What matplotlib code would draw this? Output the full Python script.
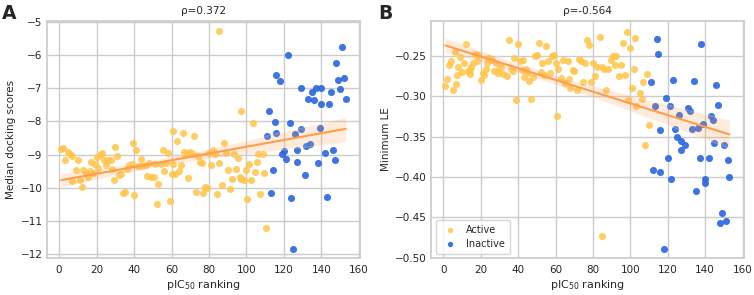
import numpy as np
import matplotlib
matplotlib.use("Agg")
import matplotlib.pyplot as plt
import seaborn as sns

# Panel A: median docking score vs pIC50 rank
a_act_x = [1, 2, 3, 5, 6, 7, 7, 9, 10, 11, 12, 13, 14.6, 15.5, 16.4, 17, 18, 19, 20, 21,
           22, 23, 24, 25, 26, 27.5, 28.4, 29.3, 30, 31, 32, 33, 34.3, 35.4, 36, 37.3, 38.8,
           39.6, 40, 41, 42.3, 43.6, 44.5, 46.4, 47.1, 48, 49.3, 50.4, 51, 52, 53, 54.3, 55.2,
           56, 57, 58, 59, 60, 61, 61, 62, 63, 64, 65, 66, 66.4, 67, 68, 69, 70, 71.3, 72, 73,
           74, 75, 76.3, 77, 78, 79, 80, 81, 82.3, 83, 84.3, 85.4, 85.5, 87, 88, 89, 90.4,
           91.4, 92.3, 93.2, 94.5, 95.4, 96.3, 97, 97, 98.6, 99.5, 100.4, 101.6, 102.5, 103.4,
           104.3, 105.7, 106.4, 107.3, 108.6, 109.3, 110.5]
a_act_y = [-8.82, -8.80, -9.15, -8.92, -8.99, -9.04, -9.79, -9.47, -9.17, -9.75, -9.96, -9.47,
           -9.52, -9.67, -9.50, -9.22, -9.54, -9.29, -9.07, -9.41, -9.02, -8.95, -9.15, -9.31,
           -9.17, -9.17, -9.44, -9.75, -8.77, -9.04, -9.62, -9.57, -10.15, -10.11, -9.42, -9.32,
           -9.27, -8.65, -10.20, -8.87, -9.35, -9.12, -9.35, -9.32, -9.64, -9.25, -9.67, -9.67,
           -9.29, -10.47, -9.87, -9.27, -8.87, -9.49, -9.25, -8.95, -10.40, -9.57, -9.27, -8.29,
           -9.57, -8.58, -9.49, -9.32, -8.35, -8.92, -9.02, -8.95, -9.70, -8.92, -8.99, -8.44,
           -10.12, -9.05, -9.22, -9.25, -10.15, -9.97, -10.00, -8.95, -9.32, -8.85, -8.97,
           -10.19, -5.28, -9.25, -9.92, -8.65, -8.95, -9.47, -10.02, -9.72, -8.97, -9.42, -9.09,
           -9.67, -9.72, -7.69, -9.77, -9.45, -10.32, -9.29, -9.75, -8.05, -9.52, -9.22, -8.99,
           -10.19, -8.99, -9.55, -11.22]
a_ina_x = [111, 112, 113, 114, 115, 116, 116, 118, 119, 120, 121, 122, 123, 124, 125, 126,
           127, 127, 129, 129, 131, 132, 133, 134, 135, 136, 137, 138, 139, 140, 140, 142,
           143, 144, 145, 146, 147, 148, 149, 150, 151, 152, 153]
a_ina_y = [-8.45, -7.70, -10.14, -9.47, -8.01, -8.36, -6.61, -6.79, -8.99, -8.90, -9.12,
           -5.99, -8.05, -10.29, -11.83, -8.39, -8.85, -9.22, -8.22, -7.01, -9.60, -8.73,
           -7.32, -8.69, -7.11, -7.37, -7.01, -9.25, -8.19, -7.01, -7.49, -8.94, -10.27,
           -7.47, -7.12, -8.87, -9.15, -6.24, -6.76, -7.03, -5.77, -6.68, -7.33]

# Panel B: minimum ligand efficiency vs pIC50 rank
b_act_x = [1, 2, 3, 4, 5, 6, 7, 7.5, 8, 9, 10, 11, 12, 13, 14, 14.5, 15, 16, 17, 18, 18.5,
           20, 21, 22, 23, 23.3, 24, 26, 27, 28, 29, 30, 31, 32, 34, 35, 36, 37, 38, 39, 40,
           41, 42, 42.5, 43, 44, 45, 46, 47, 48, 49, 50, 51, 52, 53, 54, 55, 56, 57, 58, 59,
           60, 61, 61.5, 63, 64, 65, 66.5, 67, 68, 69.5, 70, 71.5, 72.7, 73.6, 74.5, 75.6,
           76.8, 77.7, 78.9, 80, 81, 82, 84, 85, 85, 86, 87, 88, 89.8, 90.7, 91.6, 92.4, 93.7,
           95, 96, 97, 98, 99, 99.6, 101, 102, 102.6, 103, 105, 106, 107, 107.6, 109, 110]
b_act_y = [-0.287, -0.279, -0.261, -0.256, -0.292, -0.246, -0.285, -0.274, -0.264, -0.252,
           -0.270, -0.259, -0.235, -0.269, -0.273, -0.268, -0.264, -0.259, -0.248, -0.256,
           -0.249, -0.280, -0.272, -0.274, -0.266, -0.259, -0.253, -0.255, -0.269, -0.259,
           -0.272, -0.266, -0.264, -0.273, -0.275, -0.231, -0.267, -0.269, -0.253, -0.305,
           -0.236, -0.257, -0.268, -0.255, -0.277, -0.266, -0.272, -0.281, -0.304, -0.277,
           -0.251, -0.249, -0.234, -0.270, -0.259, -0.274, -0.238, -0.257, -0.272, -0.251,
           -0.249, -0.259, -0.325, -0.266, -0.278, -0.255, -0.284, -0.256, -0.279, -0.290,
           -0.268, -0.269, -0.292, -0.254, -0.257, -0.282, -0.259, -0.231, -0.237, -0.282,
           -0.259, -0.275, -0.264, -0.227, -0.264, -0.473, -0.266, -0.292, -0.267, -0.255,
           -0.251, -0.262, -0.251, -0.275, -0.262, -0.234, -0.274, -0.221, -0.305, -0.240,
           -0.290, -0.266, -0.228, -0.312, -0.296, -0.303, -0.282, -0.361, -0.273, -0.336]
b_ina_x = [111, 112, 113, 114, 115, 116, 116, 118, 119, 120, 121, 122, 123, 124, 125, 126,
           127, 127, 129, 131, 132, 133, 134, 135, 136, 137, 138, 139, 140, 140, 142, 143,
           144, 145, 146, 147, 148, 149, 150, 151, 152, 153]
b_ina_y = [-0.282, -0.391, -0.312, -0.229, -0.248, -0.342, -0.394, -0.489, -0.302, -0.376,
           -0.312, -0.403, -0.280, -0.341, -0.351, -0.324, -0.356, -0.367, -0.361, -0.315,
           -0.319, -0.341, -0.281, -0.417, -0.339, -0.376, -0.236, -0.335, -0.402, -0.408,
           -0.376, -0.325, -0.329, -0.358, -0.286, -0.311, -0.457, -0.445, -0.360, -0.455,
           -0.379, -0.400]

titles = ["ρ=0.372", "ρ=-0.564"]
ylabels = ["Median docking scores", "Minimum LE"]

c_act = "#ffc548"
c_ina = "#2a66e0"
c_line = "#ff9d4d"

sns.set_theme(style="whitegrid")
plt.rcParams["font.family"] = ["DejaVu Sans"]

fig = plt.figure(figsize=(7.54, 2.95), dpi=100)
ax1 = fig.add_axes([0.062, 0.124, 0.4155, 0.806])
ax2 = fig.add_axes([0.5716, 0.124, 0.4147, 0.806])

panels = [(ax1, a_act_x, a_act_y, a_ina_x, a_ina_y),
          (ax2, b_act_x, b_act_y, b_ina_x, b_ina_y)]

for i, (ax, ax_, ay_, ix_, iy_) in enumerate(panels):
    ax.scatter(ax_, ay_, s=26, color=c_act, alpha=0.85, lw=0, label="Active", zorder=3)
    ax.scatter(ix_, iy_, s=26, color=c_ina, alpha=0.9, lw=0, label="Inactive", zorder=3)
    xs = np.concatenate([ax_, ix_])
    ys = np.concatenate([ay_, iy_])
    sns.regplot(x=xs, y=ys, ax=ax, scatter=False, color=c_line, seed=0,
                line_kws={"lw": 1.5, "zorder": 4})
    for c in ax.collections[2:]:
        c.set_zorder(4)
        c.set_alpha(0.2)
    ax.set_xticks(np.arange(0, 161, 20))
    ax.set_xlim(-6.6, 160.6)
    ax.set_title(titles[i], fontsize=7.5, pad=5)
    ax.set_xlabel("pIC$_{50}$ ranking", fontsize=8, labelpad=2)
    ax.set_ylabel(ylabels[i], fontsize=7.5, labelpad=3)
    ax.tick_params(axis="both", labelsize=7.5, length=0)
    ax.tick_params(axis="x", pad=5)
    ax.tick_params(axis="y", pad=3)
    for s in ax.spines.values():
        s.set_color("#cccccc")

ax1.set_ylim(-12.12, -4.97)
ax1.set_yticks(np.arange(-12, -4.5, 1))
ax2.set_ylim(-0.5008, -0.2067)
ax2.set_yticks([-0.50, -0.45, -0.40, -0.35, -0.30, -0.25])
ax2.set_yticklabels(["−0.50", "−0.45", "−0.40", "−0.35", "−0.30", "−0.25"])

ax2.legend(loc="lower left", fontsize=7, frameon=True, handletextpad=0.6,
           borderpad=0.5, markerscale=0.75, labelspacing=0.4)

fig.text(0.003, 0.985, "A", fontsize=13.5, fontweight="bold", va="top")
fig.text(0.502, 0.985, "B", fontsize=13.5, fontweight="bold", va="top")

fig.savefig("out.png", dpi=100)
